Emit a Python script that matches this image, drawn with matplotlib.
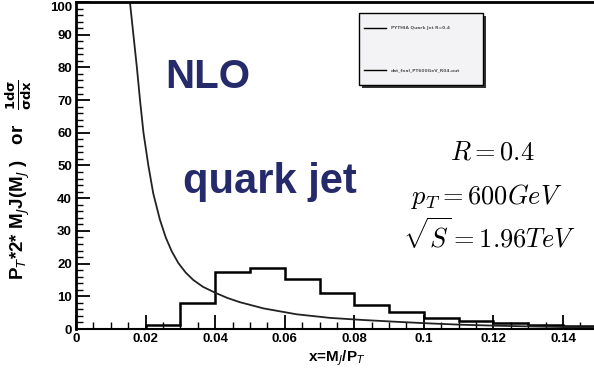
import matplotlib
matplotlib.use("Agg")
import matplotlib.pyplot as plt
from matplotlib.patches import Rectangle
from matplotlib.lines import Line2D
from matplotlib.ticker import MultipleLocator, FixedLocator

# ---- data ----
hist_edges = [0.02, 0.03, 0.04, 0.05, 0.06, 0.07, 0.08, 0.09, 0.10, 0.11, 0.12, 0.13, 0.14, 0.15]
hist_values = [1.2, 7.8, 17.5, 18.6, 15.3, 10.9, 7.3, 5.3, 3.5, 2.5, 1.7, 1.2, 0.9]

curve_x = [0.0150, 0.0155, 0.0165, 0.0175, 0.0184, 0.0194, 0.0208, 0.0222, 0.0241, 0.0258,
           0.0275, 0.0294, 0.0315, 0.0337, 0.0365, 0.040, 0.0435, 0.0471, 0.0539, 0.0634,
           0.073, 0.0826, 0.0922, 0.1018, 0.111, 0.121, 0.130, 0.140, 0.150]
curve_y = [107, 100, 90, 80, 70, 60, 50, 41.5, 33.5, 28.0,
           23.8, 20.2, 17.3, 15.0, 12.9, 11.1, 9.5, 8.2, 6.3, 4.5,
           3.4, 2.75, 2.2, 1.7, 1.3, 1.0, 0.8, 0.6, 0.5]

x_ticks = [0, 0.02, 0.04, 0.06, 0.08, 0.1, 0.12, 0.14]
x_ticklabels = ["0", "0.02", "0.04", "0.06", "0.08", "0.1", "0.12", "0.14"]
y_ticks = [0, 10, 20, 30, 40, 50, 60, 70, 80, 90, 100]
y_ticklabels = [str(v) for v in y_ticks]

legend_labels = ["PYTHIA Quark Jet R=0.4", "dat_fnal_PT600GeV_R04.out"]

SANS = ["Liberation Sans Narrow", "Liberation Sans", "DejaVu Sans"]
NAVY = "#252a6b"

W, H = 594, 381
fig = plt.figure(figsize=(W / 100, H / 100), dpi=100)
ax = fig.add_axes([76 / W, 52 / H, (597.8 - 76) / W, (379 - 52) / H])

ax.stairs(hist_values, hist_edges, baseline=0, color="black", linewidth=1.8)
ax.plot(curve_x, curve_y, color="#222222", linewidth=1.3)

ax.set_xlim(0, 0.15)
ax.set_ylim(0, 100)
ax.xaxis.set_major_locator(FixedLocator(x_ticks))
ax.set_xticklabels(x_ticklabels)
ax.xaxis.set_minor_locator(MultipleLocator(0.005))
ax.yaxis.set_major_locator(FixedLocator(y_ticks))
ax.set_yticklabels(y_ticklabels)
ax.yaxis.set_minor_locator(MultipleLocator(2))

ax.tick_params(which="major", direction="in", length=10, width=1.3, top=False, right=False, pad=3)
ax.tick_params(which="minor", direction="in", length=5, width=1.0, top=False, right=False)
for lab in ax.get_xticklabels() + ax.get_yticklabels():
    lab.set_family(SANS)
    lab.set_fontweight("bold")
    lab.set_fontsize(9.5)
ax.get_yticklabels()[-1].set_va("top")
for sp in ["left", "top"]:
    ax.spines[sp].set_linewidth(2)
ax.spines["bottom"].set_linewidth(1.5)
ax.spines["right"].set_visible(False)

ax.set_xlabel(r"x=M$_J$/P$_T$", family=SANS, fontweight="bold", fontsize=11, labelpad=2,
              math_fontfamily="dejavusans")

# y label
fig.text(19 / W, 1 - 180 / H,
         r"P$_{T}$*2* M$_{J}$J(M$_{J}$ )   or   $\frac{\mathbf{1d\sigma}}{\mathbf{\sigma dx}}$",
         rotation=90, ha="center", va="center", family=SANS, fontweight="bold", fontsize=13.5,
         math_fontfamily="dejavusans")

# annotations
fig.text(165 / W, 1 - 88 / H, "NLO", family=SANS, fontweight="bold", fontsize=29,
         color=NAVY, ha="left", va="baseline")
fig.text(183 / W, 1 - 193 / H, "quark jet", family=SANS, fontweight="bold", fontsize=30,
         color=NAVY, ha="left", va="baseline")

fig.text(492 / W, 1 - 160 / H, r"$R = 0.4$", fontsize=19, math_fontfamily="cm",
         ha="center", va="baseline")
fig.text(487 / W, 1 - 204 / H, r"$p_T = 600GeV$", fontsize=19, math_fontfamily="cm",
         ha="center", va="baseline")
fig.text(489 / W, 1 - 248 / H, r"$\sqrt{S} = 1.96TeV$", fontsize=19, math_fontfamily="cm",
         ha="center", va="baseline")

# legend box drawn manually
x0, y0, x1, y1 = 359, 13, 483, 85
fig.patches.append(Rectangle(((x0 + 3) / W, 1 - (y1 + 3) / H), (x1 - x0) / W, (y1 - y0) / H,
                             transform=fig.transFigure, facecolor="#333333", edgecolor="none", zorder=5))
fig.patches.append(Rectangle((x0 / W, 1 - y1 / H), (x1 - x0) / W, (y1 - y0) / H,
                             transform=fig.transFigure, facecolor="#f3f3f5", edgecolor="black",
                             linewidth=1.0, zorder=6))
for ly, lab in zip([28, 70], legend_labels):
    fig.lines.append(Line2D([364 / W, 386 / W], [1 - ly / H, 1 - ly / H], transform=fig.transFigure,
                            color="black", linewidth=1.0, zorder=7))
    fig.text(391 / W, 1 - ly / H, lab, fontsize=3.2, color="#555555", ha="left", va="center",
             zorder=7, fontweight="bold")

fig.savefig("out.png", dpi=100)
